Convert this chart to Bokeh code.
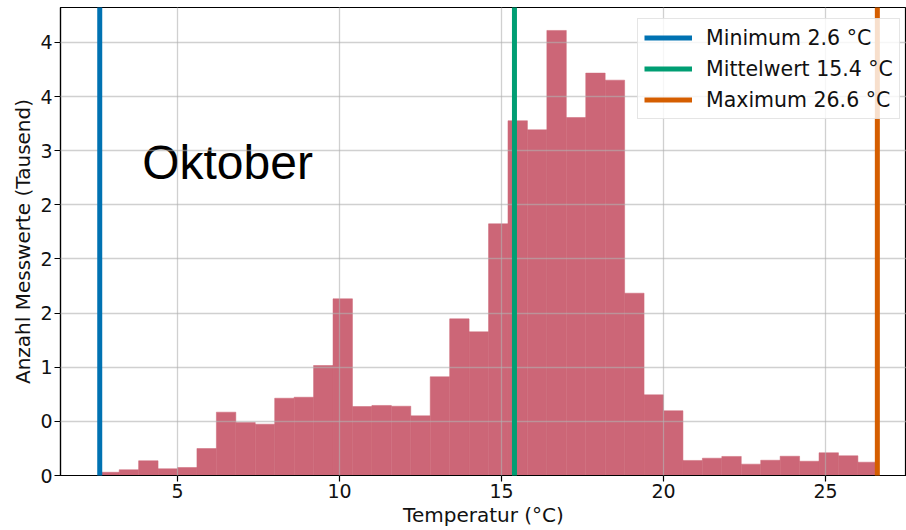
import numpy as np
from bokeh.plotting import figure
from bokeh.models import FixedTicker, Range1d, Legend, LegendItem
from bokeh.core.properties import value
from bokeh.embed import file_html
from bokeh.resources import INLINE

# ---- data ----
month = "Oktober"
t_min = 2.6
t_mean = 15.4
t_max = 26.6
n_bins = 40
counts_thousand = [0.030, 0.053, 0.136, 0.062, 0.074, 0.249, 0.585, 0.490, 0.474, 0.714,
                   0.723, 1.016, 1.632, 0.637, 0.647, 0.640, 0.551, 0.912, 1.447, 1.327,
                   2.325, 3.277, 3.193, 4.111, 3.307, 3.717, 3.652, 1.684, 0.745, 0.598,
                   0.139, 0.160, 0.176, 0.105, 0.141, 0.178, 0.132, 0.210, 0.182, 0.123]
xtick_values = [5, 10, 15, 20, 25]
ytick_values = [0, 0.5, 1.0, 1.5, 2.0, 2.5, 3.0, 3.5, 4.0]
ytick_labels = ["0", "0", "1", "2", "2", "2", "3", "4", "4"]
line_labels = ["Minimum 2.6 °C", "Mittelwert 15.4 °C", "Maximum 26.6 °C"]
line_values = [t_min, t_mean, t_max]
line_colors = ["#0072B2", "#009E73", "#D55E00"]
x_label = "Temperatur (°C)"
y_label = "Anzahl Messwerte (Tausend)"

edges = np.linspace(t_min, t_max, n_bins + 1)
Y_TOP = 4.323

FONT = "DejaVu Sans"

p = figure(width=906, height=530, output_backend="svg", toolbar_location=None,
           x_range=Range1d(1.389, 27.5), y_range=Range1d(0, Y_TOP),
           min_border_left=60, min_border_right=0, min_border_top=7, min_border_bottom=55)
p.background_fill_color = "white"
p.border_fill_color = "white"
p.outline_line_color = "black"
p.outline_line_width = 1.2

bars = p.quad(left=edges[:-1], right=edges[1:], bottom=0, top=counts_thousand,
              fill_color="#CC6677", line_color="#CC6677", line_width=0.5)

items = []
for v, c, lab in zip(line_values, line_colors, line_labels):
    r = p.segment(x0=[v], y0=[0], x1=[v], y1=[Y_TOP], line_color=c, line_width=5)
    r.level = "annotation"
    items.append(LegendItem(label=lab, renderers=[r]))

p.text(x=[3.91], y=[2.89], text=[month], text_font=value("Liberation Sans"),
       text_font_size="48px", text_color="black", text_baseline="alphabetic",
       text_align="left")

# grid
for g in (p.xgrid, p.ygrid):
    g.grid_line_color = "#b0b0b0"
    g.grid_line_alpha = 0.6
    g.grid_line_width = 1.3
    g.level = "guide"

p.xaxis.ticker = FixedTicker(ticks=xtick_values)
p.yaxis.ticker = FixedTicker(ticks=ytick_values)
p.yaxis.major_label_overrides = {v: l for v, l in zip(ytick_values, ytick_labels)}
p.xgrid.ticker = FixedTicker(ticks=xtick_values)
p.ygrid.ticker = FixedTicker(ticks=ytick_values)

for ax in (p.xaxis[0], p.yaxis[0]):
    ax.axis_line_color = "black"
    ax.axis_line_width = 1.2
    ax.major_tick_line_color = "black"
    ax.major_tick_line_width = 1.2
    ax.major_tick_out = 6
    ax.major_tick_in = 0
    ax.minor_tick_line_color = None
    ax.major_label_text_font = FONT
    ax.major_label_text_font_size = "19px"
    ax.major_label_text_color = "#111111"
    ax.axis_label_text_font = FONT
    ax.axis_label_text_font_size = "20px"
    ax.axis_label_text_font_style = "normal"
    ax.axis_label_text_color = "#111111"
    ax.major_label_standoff = 2
    ax.axis_label_standoff = 2

p.xaxis.axis_label = x_label
p.yaxis.axis_label = y_label

legend = Legend(items=items, location=(577, 356))
legend.label_text_font = FONT
legend.label_text_font_size = "20.5px"
legend.label_text_color = "#111111"
legend.glyph_width = 48
legend.glyph_height = 25
legend.label_height = 25
legend.spacing = 6
legend.padding = 6
legend.margin = 0
legend.label_standoff = 14
legend.border_line_color = "#cccccc"
legend.border_line_width = 1
legend.background_fill_alpha = 0.8
legend.level = "overlay"
p.add_layout(legend, "center")

open("out.html", "w").write(file_html(p, INLINE))
